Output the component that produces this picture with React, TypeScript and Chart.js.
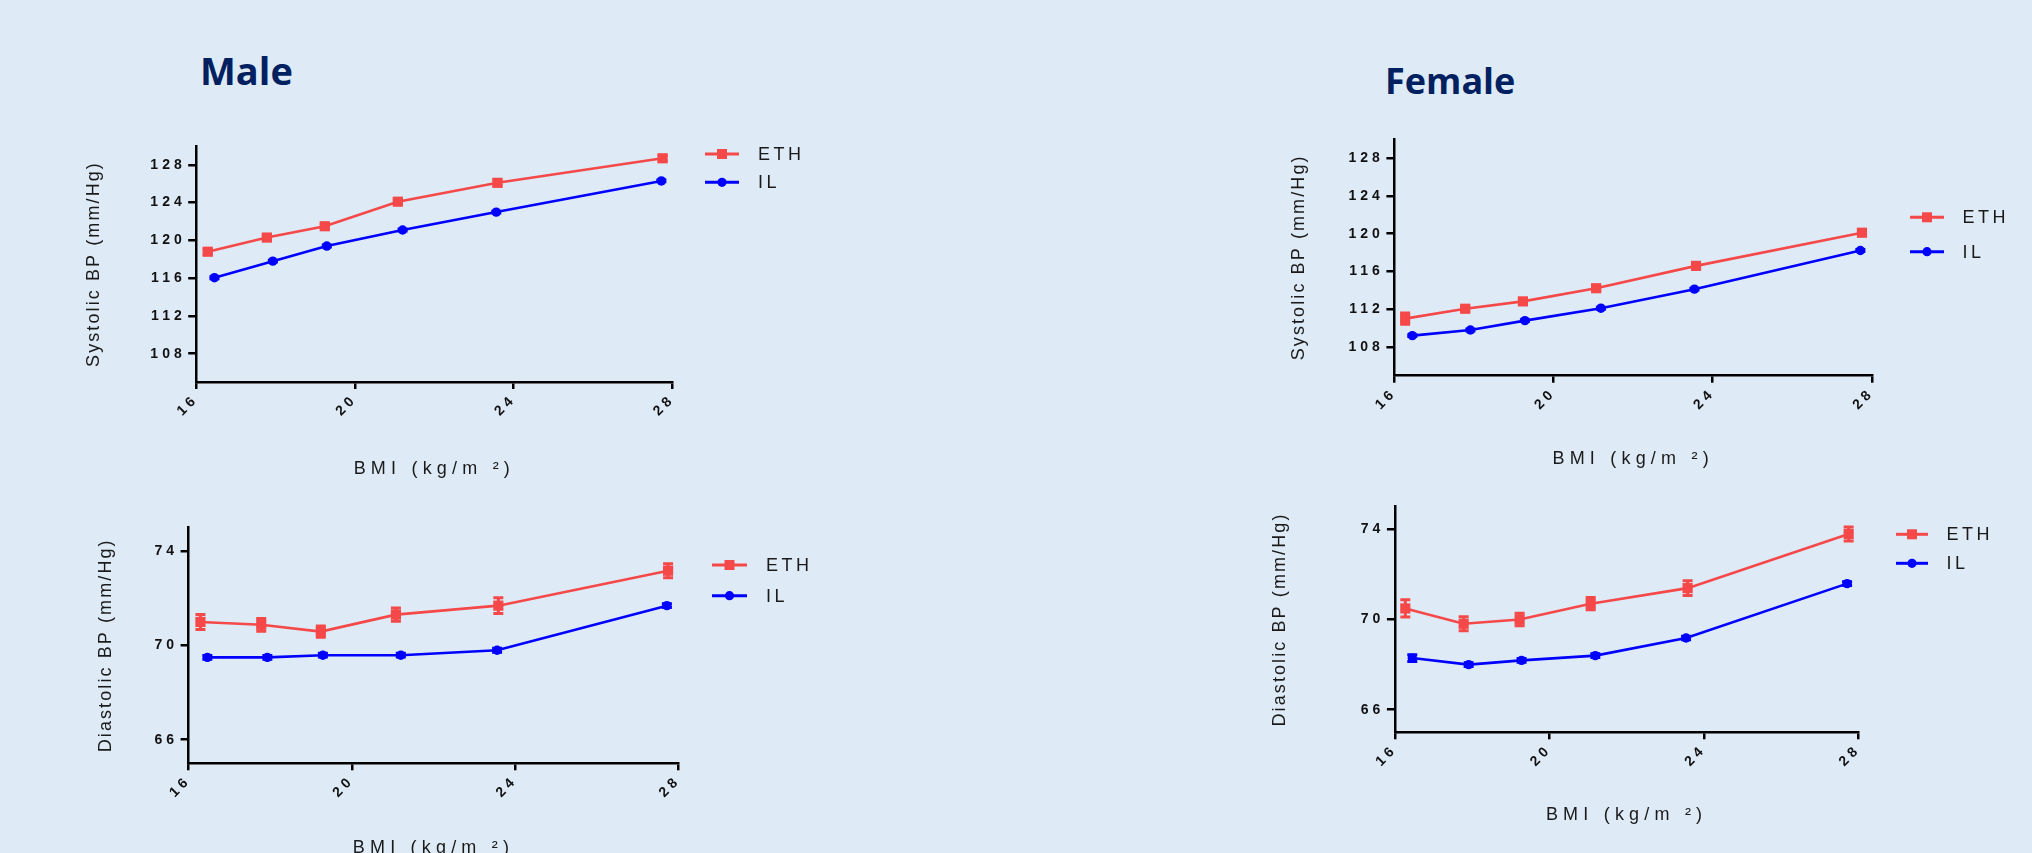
import React, { useEffect, useRef } from 'react';
import { Chart, registerables } from 'chart.js';

Chart.register(...registerables);

// ---------- data ----------
const seriesLabels = ['ETH', 'IL'];
const xTicks = [16, 20, 24, 28];
const sysTicks = [108, 112, 116, 120, 124, 128];
const diaTicks = [66, 70, 74];

const maleEthBmi = [16.29, 17.78, 19.24, 21.08, 23.59, 27.75];
const maleIlBmi = [16.46, 17.93, 19.29, 21.2, 23.56, 27.72];
const femaleEthBmi = [16.27, 17.78, 19.23, 21.07, 23.58, 27.75];
const femaleIlBmi = [16.45, 17.91, 19.28, 21.19, 23.54, 27.71];

const maleSysEth = [118.8, 120.3, 121.5, 124.1, 126.1, 128.7];
const maleSysIl = [116.05, 117.8, 119.4, 121.1, 123.0, 126.3];
const maleDiaEth = [70.99, 70.87, 70.58, 71.3, 71.68, 73.16];
const maleDiaIl = [69.49, 69.49, 69.58, 69.58, 69.79, 71.68];
const femaleSysEth = [111.03, 112.07, 112.85, 114.24, 116.6, 120.1];
const femaleSysIl = [109.23, 109.83, 110.82, 112.13, 114.14, 118.22];
const femaleDiaEth = [70.49, 69.81, 70.0, 70.7, 71.39, 73.79];
const femaleDiaIl = [68.29, 68.0, 68.19, 68.4, 69.18, 71.59];

const maleSysEthErr = [0.3, 0.25, 0.25, 0.25, 0.3, 0.3];
const maleSysIlErr = [0.1, 0.1, 0.1, 0.1, 0.1, 0.1];
const maleDiaEthErr = [0.32, 0.27, 0.24, 0.28, 0.33, 0.3];
const maleDiaIlErr = [0.08, 0.08, 0.08, 0.08, 0.08, 0.08];
const femaleSysEthErr = [0.6, 0.25, 0.25, 0.25, 0.3, 0.3];
const femaleSysIlErr = [0.1, 0.1, 0.1, 0.1, 0.1, 0.1];
const femaleDiaEthErr = [0.38, 0.31, 0.28, 0.27, 0.33, 0.31];
const femaleDiaIlErr = [0.15, 0.08, 0.08, 0.08, 0.08, 0.08];

// ---------- style ----------
const BG = '#deebf7';
const RED = '#f54848';
const BLUE = '#0000ff';
const FONT = "'Liberation Sans', Arial, sans-serif";
const TEXT = '#1a1a1a';
const TITLE_SIZE_X = 18;
const TITLE_SIZE_Y = 18;

type Layout = {
  L: number; R: number; T: number; B: number;
  yTitleX: number; xTitleMid: number;
  leg: { x1: number; x2: number; tx: number; y1: number; y2: number };
};

const spacingPlugin = {
  id: 'spacing',
  beforeDraw(chart: any, _args: any, opts: any) {
    Object.values(chart.scales).forEach((s: any) => {
      if (s.__patched) return;
      s.__patched = true;
      const wrap = (name: string, ls: string) => {
        const orig = s[name].bind(s);
        s[name] = (...a: any[]) => {
          const ctx = chart.ctx;
          ctx.save();
          ctx.letterSpacing = ls;
          orig(...a);
          ctx.restore();
        };
      };
      wrap('drawLabels', opts.tick);
      wrap('drawTitle', s.axis === 'x' ? opts.xTitle : opts.yTitle);
    });
  },
};

const errorBarPlugin = {
  id: 'errorBars',
  afterDatasetsDraw(chart: any) {
    const ctx = chart.ctx;
    const xs = chart.scales.x;
    const ys = chart.scales.y;
    chart.data.datasets.forEach((ds: any) => {
      if (!ds.errors) return;
      ctx.save();
      ctx.strokeStyle = ds.borderColor;
      ctx.lineWidth = 3;
      ds.data.forEach((p: any, i: number) => {
        const e = ds.errors[i];
        const px = xs.getPixelForValue(p.x);
        const y1 = ys.getPixelForValue(p.y + e);
        const y2 = ys.getPixelForValue(p.y - e);
        ctx.beginPath();
        ctx.moveTo(px, y1);
        ctx.lineTo(px, y2);
        ctx.moveTo(px - 5, y1);
        ctx.lineTo(px + 5, y1);
        ctx.moveTo(px - 5, y2);
        ctx.lineTo(px + 5, y2);
        ctx.stroke();
      });
      ctx.restore();
    });
  },
};

const legendPlugin = {
  id: 'sideLegend',
  afterDraw(chart: any, _args: any, opts: any) {
    const ctx = chart.ctx;
    const { x1, x2, tx, ys } = opts;
    chart.data.datasets.forEach((ds: any, i: number) => {
      const y = ys[i];
      ctx.save();
      ctx.strokeStyle = ds.borderColor;
      ctx.fillStyle = ds.borderColor;
      ctx.lineWidth = 3;
      ctx.beginPath();
      ctx.moveTo(x1, y);
      ctx.lineTo(x2, y);
      ctx.stroke();
      const cx = (x1 + x2) / 2;
      if (ds.pointStyle === 'rect') {
        ctx.fillRect(cx - 5, y - 5, 10, 10);
      } else {
        ctx.beginPath();
        ctx.arc(cx, y, 4.6, 0, Math.PI * 2);
        ctx.fill();
      }
      ctx.letterSpacing = '3.5px';
      ctx.font = `18px ${FONT}`;
      ctx.fillStyle = TEXT;
      ctx.textBaseline = 'middle';
      ctx.textAlign = 'left';
      ctx.fillText(ds.label, tx, y + 1);
      ctx.restore();
    });
  },
};

type PanelProps = {
  layout: Layout;
  yTitle: string;
  yMin: number;
  yMax: number;
  yTicks: number[];
  ethX: number[]; ethY: number[]; ethErr: number[];
  ilX: number[]; ilY: number[]; ilErr: number[];
};

function Panel(p: PanelProps) {
  const ref = useRef<HTMLCanvasElement>(null);
  const lay = p.layout;
  const halfY = (TITLE_SIZE_Y * 1.2) / 2;
  const halfX = (TITLE_SIZE_X * 1.2) / 2;
  const left = Math.round(lay.yTitleX - halfY);
  const top = Math.round(lay.T - 15);
  const bottom = Math.round(lay.xTitleMid + halfX);
  const right = Math.min(2032, Math.round(lay.leg.tx + 62));
  const width = right - left;
  const height = bottom - top;
  const W = lay.L - left;
  const H = bottom - lay.B;
  const padTop = lay.T - top;
  const padRight = right - lay.R;

  useEffect(() => {
    const canvas = ref.current!;
    const tickFont = { family: FONT, size: 14, weight: 'bold' as const };
    const chart = new Chart(canvas, {
      type: 'line',
      data: {
        datasets: [
          {
            label: seriesLabels[0],
            data: p.ethX.map((x, i) => ({ x, y: p.ethY[i] })),
            borderColor: RED,
            backgroundColor: RED,
            borderWidth: 2.6,
            pointStyle: 'rect',
            pointRadius: 7.2,
            pointHoverRadius: 7.2,
            pointBorderWidth: 0,
            clip: false,
            errors: p.ethErr,
          } as any,
          {
            label: seriesLabels[1],
            data: p.ilX.map((x, i) => ({ x, y: p.ilY[i] })),
            borderColor: BLUE,
            backgroundColor: BLUE,
            borderWidth: 2.6,
            pointStyle: 'circle',
            pointRadius: 4.7,
            pointHoverRadius: 4.7,
            pointBorderWidth: 0,
            clip: false,
            errors: p.ilErr,
          } as any,
        ],
      },
      options: {
        responsive: false,
        animation: false,
        devicePixelRatio: 1,
        events: [],
        layout: { padding: { top: padTop, right: padRight, left: 0, bottom: 0 } },
        plugins: {
          legend: { display: false },
          tooltip: { enabled: false },
          spacing: { tick: '4px', xTitle: '5.2px', yTitle: '2.1px' },
          sideLegend: {
            x1: lay.leg.x1 - left,
            x2: lay.leg.x2 - left,
            tx: lay.leg.tx - left,
            ys: [lay.leg.y1 - top, lay.leg.y2 - top],
          },
        } as any,
        scales: {
          x: {
            type: 'linear',
            min: xTicks[0],
            max: xTicks[xTicks.length - 1],
            afterBuildTicks: (s: any) => {
              s.ticks = xTicks.map((v) => ({ value: v }));
            },
            afterFit: (s: any) => {
              s.height = H;
            },
            ticks: {
              font: tickFont,
              color: '#111',
              minRotation: 45,
              maxRotation: 45,
              autoSkip: false,
              padding: 2,
            },
            grid: {
              display: true,
              drawOnChartArea: false,
              drawTicks: true,
              tickLength: 7,
              color: '#000',
              lineWidth: 2.5,
            },
            border: { display: true, color: '#000', width: 2.5 },
            title: {
              display: true,
              text: 'BMI (kg/m ²)',
              font: { family: FONT, size: TITLE_SIZE_X },
              color: TEXT,
              padding: 0,
            },
          },
          y: {
            type: 'linear',
            min: p.yMin,
            max: p.yMax,
            afterBuildTicks: (s: any) => {
              s.ticks = p.yTicks.map((v) => ({ value: v }));
            },
            afterFit: (s: any) => {
              s.width = W;
            },
            ticks: { font: tickFont, color: '#111', padding: 2.5 },
            grid: {
              display: true,
              drawOnChartArea: false,
              drawTicks: true,
              tickLength: 8,
              color: '#000',
              lineWidth: 2.5,
            },
            border: { display: true, color: '#000', width: 2.5 },
            title: {
              display: true,
              text: p.yTitle,
              font: { family: FONT, size: TITLE_SIZE_Y },
              color: TEXT,
              padding: 0,
            },
          },
        },
      },
      plugins: [spacingPlugin, errorBarPlugin, legendPlugin],
    });
    return () => chart.destroy();
  }, []);

  return (
    <canvas
      ref={ref}
      width={width}
      height={height}
      style={{ position: 'absolute', left, top, width, height }}
    />
  );
}

const maleSysLayout: Layout = {
  L: 196.2, R: 672.5, T: 146, B: 382, yTitleX: 93.9, xTitleMid: 469,
  leg: { x1: 705, x2: 739, tx: 758, y1: 154, y2: 182.3 },
};
const maleDiaLayout: Layout = {
  L: 188.6, R: 678.3, T: 527.3, B: 763.3, yTitleX: 106, xTitleMid: 848,
  leg: { x1: 712, x2: 747, tx: 766, y1: 565, y2: 595.7 },
};
const femaleSysLayout: Layout = {
  L: 1394.4, R: 1871.9, T: 139, B: 375.7, yTitleX: 1299, xTitleMid: 459.5,
  leg: { x1: 1910, x2: 1944, tx: 1962.6, y1: 217.3, y2: 251.7 },
};
const femaleDiaLayout: Layout = {
  L: 1394.9, R: 1858.3, T: 506.7, B: 732.3, yTitleX: 1280, xTitleMid: 815.5,
  leg: { x1: 1896, x2: 1928, tx: 1946.6, y1: 534.3, y2: 563.3 },
};

export default function App() {
  const titleStyle: React.CSSProperties = {
    position: 'absolute',
    fontFamily: "'Open Sans', 'Noto Sans', sans-serif",
    fontWeight: 700,
    color: '#002060',
    lineHeight: 1,
    margin: 0,
    whiteSpace: 'nowrap',
  };
  return (
    <div
      style={{
        position: 'absolute',
        left: 0,
        top: 0,
        width: 2032,
        height: 853,
        background: BG,
        overflow: 'hidden',
      }}
    >
      <div style={{ ...titleStyle, left: 200, top: 51, fontSize: 38 }}>Male</div>
      <div style={{ ...titleStyle, left: 1385, top: 63, fontSize: 36 }}>Female</div>
      <Panel
        layout={maleSysLayout}
        yTitle="Systolic BP (mm/Hg)"
        yMin={105}
        yMax={130}
        yTicks={sysTicks}
        ethX={maleEthBmi} ethY={maleSysEth} ethErr={maleSysEthErr}
        ilX={maleIlBmi} ilY={maleSysIl} ilErr={maleSysIlErr}
      />
      <Panel
        layout={maleDiaLayout}
        yTitle="Diastolic BP (mm/Hg)"
        yMin={65}
        yMax={75}
        yTicks={diaTicks}
        ethX={maleEthBmi} ethY={maleDiaEth} ethErr={maleDiaEthErr}
        ilX={maleIlBmi} ilY={maleDiaIl} ilErr={maleDiaIlErr}
      />
      <Panel
        layout={femaleSysLayout}
        yTitle="Systolic BP (mm/Hg)"
        yMin={105}
        yMax={130}
        yTicks={sysTicks}
        ethX={femaleEthBmi} ethY={femaleSysEth} ethErr={femaleSysEthErr}
        ilX={femaleIlBmi} ilY={femaleSysIl} ilErr={femaleSysIlErr}
      />
      <Panel
        layout={femaleDiaLayout}
        yTitle="Diastolic BP (mm/Hg)"
        yMin={65}
        yMax={75}
        yTicks={diaTicks}
        ethX={femaleEthBmi} ethY={femaleDiaEth} ethErr={femaleDiaEthErr}
        ilX={femaleIlBmi} ilY={femaleDiaIl} ilErr={femaleDiaIlErr}
      />
    </div>
  );
}
